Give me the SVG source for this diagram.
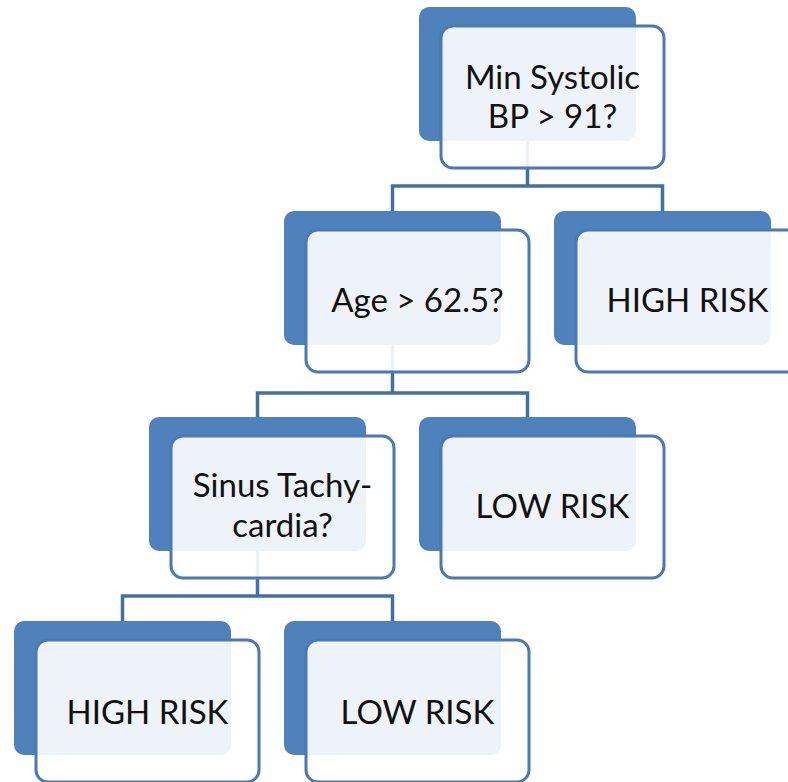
<svg xmlns="http://www.w3.org/2000/svg" width="788" height="782" viewBox="0 0 788 782">
  <style>
    .back { fill: #4f81bd; }
    .front { fill: #ffffff; fill-opacity: 0.9; stroke: #4a7ab4; stroke-width: 3; }
    .conn { fill: none; stroke: #41719c; stroke-width: 3.5; }
    .lbl { font-family: Lato, "Liberation Sans", sans-serif; font-size: 33px; fill: #111111; text-anchor: middle; }
  </style>
  <rect width="788" height="782" fill="#ffffff"/>
  <g id="connectors">
    <path class="conn" d="M527.5 141 V186 M392.5 211 V186 H662.5 V211"/>
    <path class="conn" d="M392.5 345 V393 M257.5 417 V393 H527.5 V417"/>
    <path class="conn" d="M257.5 551 V596 M122.5 621 V596 H392.5 V621"/>
  </g>
  <g id="n0">
    <rect class="back" x="419" y="7" width="217" height="134" rx="10"/>
    <rect class="front" x="441" y="26" width="223" height="142" rx="12"/>
    <text class="lbl" x="552.5" y="89">Min Systolic</text>
    <text class="lbl" x="552.5" y="128">BP &gt; 91?</text>
  </g>
  <g id="n1">
    <rect class="back" x="284" y="211" width="217" height="134" rx="10"/>
    <rect class="front" x="306" y="230" width="223" height="142" rx="12"/>
    <text class="lbl" x="417.5" y="312">Age &gt; 62.5?</text>
  </g>
  <g id="n2">
    <rect class="back" x="554" y="211" width="217" height="134" rx="10"/>
    <rect class="front" x="576" y="230" width="223" height="142" rx="12"/>
    <text class="lbl" x="687.5" y="312">HIGH RISK</text>
  </g>
  <g id="n3">
    <rect class="back" x="149" y="417" width="217" height="134" rx="10"/>
    <rect class="front" x="171" y="436" width="223" height="142" rx="12"/>
    <text class="lbl" x="282.5" y="497">Sinus Tachy-</text>
    <text class="lbl" x="282.5" y="537">cardia?</text>
  </g>
  <g id="n4">
    <rect class="back" x="419" y="417" width="217" height="134" rx="10"/>
    <rect class="front" x="441" y="436" width="223" height="142" rx="12"/>
    <text class="lbl" x="552.5" y="518">LOW RISK</text>
  </g>
  <g id="n5">
    <rect class="back" x="14" y="621" width="217" height="134" rx="10"/>
    <rect class="front" x="36" y="640" width="223" height="142" rx="12"/>
    <text class="lbl" x="147.5" y="724">HIGH RISK</text>
  </g>
  <g id="n6">
    <rect class="back" x="284" y="621" width="217" height="134" rx="10"/>
    <rect class="front" x="306" y="640" width="223" height="142" rx="12"/>
    <text class="lbl" x="417.5" y="724">LOW RISK</text>
  </g>
</svg>
